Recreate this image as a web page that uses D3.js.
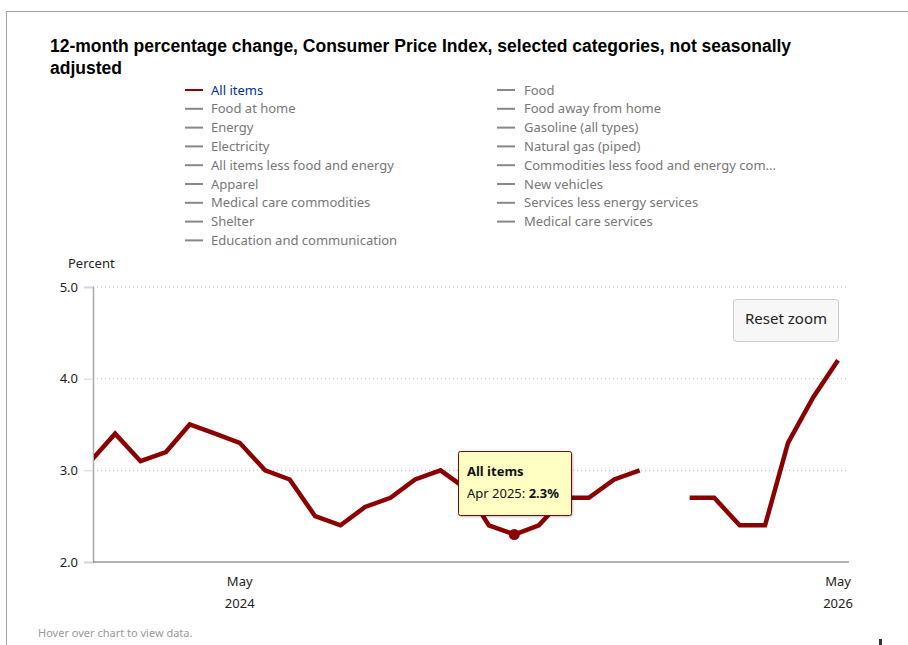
<!DOCTYPE html>
<html>
<head>
<meta charset="utf-8">
<script src="https://cdn.jsdelivr.net/npm/d3@7"></script>
<style>
  body { margin: 0; background: #fff; }
  svg { display: block; }
</style>
</head>
<body>
<script>
// Data: 12-month % change, All items CPI (Oct 2025 missing)
const months = ["2023-11","2023-12","2024-01","2024-02","2024-03","2024-04","2024-05","2024-06","2024-07","2024-08","2024-09","2024-10","2024-11","2024-12","2025-01","2025-02","2025-03","2025-04","2025-05","2025-06","2025-07","2025-08","2025-09","2025-10","2025-11","2025-12","2026-01","2026-02","2026-03","2026-04","2026-05"];
const allItems = [3.1,3.4,3.1,3.2,3.5,3.4,3.3,3.0,2.9,2.5,2.4,2.6,2.7,2.9,3.0,2.8,2.4,2.3,2.4,2.7,2.7,2.9,3.0,null,2.7,2.7,2.4,2.4,3.3,3.8,4.2];
const legendLeft = ["All items","Food at home","Energy","Electricity","All items less food and energy","Apparel","Medical care commodities","Shelter","Education and communication"];
const legendRight = ["Food","Food away from home","Gasoline (all types)","Natural gas (piped)","Commodities less food and energy com...","New vehicles","Services less energy services","Medical care services"];
const yTicks = [2.0, 3.0, 4.0, 5.0];
const xTicks = ["2024-05","2026-05"];
const hoverMonth = "2025-04";

const W = 908, H = 645;
const margin = { top: 287, right: 59, bottom: 83, left: 93 };
const parse = d3.timeParse("%Y-%m");
const data = months.map((m, i) => ({ date: parse(m), value: allItems[i] }));

const svg = d3.select("body").append("svg")
    .attr("width", W)
    .attr("height", H)
    .style("font-family", "'Noto Sans', 'Open Sans', sans-serif");

// outer frame
svg.append("path")
    .attr("d", `M6.5,${H} V11.5 H${W}`)
    .attr("fill", "none")
    .attr("stroke", "#a0a0a0");

// Title
const title = svg.append("text")
    .attr("x", 50)
    .attr("y", 52)
    .style("font-family", "'Liberation Sans', Arial, sans-serif")
    .style("font-weight", "bold")
    .style("font-size", "17.5px")
    .attr("fill", "#000");
title.append("tspan").attr("x", 50).text("12-month percentage change, Consumer Price Index, selected categories, not seasonally");
title.append("tspan").attr("x", 50).attr("dy", 22).text("adjusted");

// Legend
function drawLegend(items, lx, tx) {
    const g = svg.append("g");
    const row = g.selectAll("g")
        .data(items)
        .enter()
        .append("g")
        .attr("transform", (d, i) => `translate(0, ${90 + i * 18.8})`);
    row.append("line")
        .attr("x1", lx).attr("x2", lx + 18)
        .attr("stroke", d => d === "All items" ? "#8b0000" : "#888")
        .attr("stroke-width", 2);
    row.append("text")
        .attr("x", tx)
        .attr("dy", "0.35em")
        .style("font-size", "13px")
        .attr("fill", d => d === "All items" ? "#003399" : "#777")
        .text(d => d);
}
drawLegend(legendLeft, 185, 211);
drawLegend(legendRight, 497, 524);

// Scales
const x = d3.scaleTime()
    .domain([new Date(2023, 10, 4), new Date(2026, 4, 1)])
    .range([margin.left, 838]);
const y = d3.scaleLinear()
    .domain([2, 5])
    .range([H - margin.bottom, margin.top]);
const plotRight = W - margin.right;

// Gridlines
svg.append("g")
    .selectAll("line")
    .data(yTicks.filter(t => t > 2))
    .enter()
    .append("line")
    .attr("x1", margin.left).attr("x2", plotRight)
    .attr("y1", d => y(d)).attr("y2", d => y(d))
    .attr("stroke", "#bbb")
    .attr("stroke-dasharray", "1,3");

// Y axis
const yAxis = d3.axisLeft(y)
    .tickValues(yTicks)
    .tickFormat(d3.format(".1f"))
    .tickSize(9)
    .tickPadding(6);
const yg = svg.append("g")
    .attr("transform", `translate(${margin.left},0)`)
    .call(yAxis);
yg.select(".domain").attr("stroke", "#a8a8a8").attr("stroke-width", 1.5);
yg.selectAll(".tick line").attr("stroke", "#ccd6eb");
yg.selectAll(".tick text")
    .style("font-size", "13px")
    .style("font-family", "'Noto Sans', sans-serif")
    .attr("fill", "#222");

svg.append("text")
    .attr("x", 68)
    .attr("y", 268)
    .style("font-size", "13px")
    .attr("fill", "#222")
    .text("Percent");

// X axis line
svg.append("line")
    .attr("x1", margin.left).attr("x2", plotRight)
    .attr("y1", y(2)).attr("y2", y(2))
    .attr("stroke", "#999")
    .attr("stroke-width", 1.5);

// X tick labels
const xl = svg.append("g")
    .selectAll("g")
    .data(xTicks.map(parse))
    .enter()
    .append("g")
    .attr("transform", d => `translate(${x(d)},0)`);
xl.append("text")
    .attr("y", 586)
    .attr("text-anchor", "middle")
    .style("font-size", "13px")
    .attr("fill", "#222")
    .text(d => d3.timeFormat("%b")(d));
xl.append("text")
    .attr("y", 608)
    .attr("text-anchor", "middle")
    .style("font-size", "13px")
    .attr("fill", "#222")
    .text(d => d3.timeFormat("%Y")(d));

// Line
svg.append("clipPath")
    .attr("id", "plot-clip")
    .append("rect")
    .attr("x", margin.left + 1)
    .attr("y", margin.top - 10)
    .attr("width", plotRight - margin.left + 10)
    .attr("height", H - margin.bottom - margin.top + 10);

const line = d3.line()
    .defined(d => d.value !== null)
    .x(d => x(d.date))
    .y(d => y(d.value));

svg.append("path")
    .datum(data)
    .attr("clip-path", "url(#plot-clip)")
    .attr("fill", "none")
    .attr("stroke", "#8b0000")
    .attr("stroke-width", 4.5)
    .attr("stroke-linejoin", "miter")
    .attr("d", line);

// Hovered point
const hp = data.find(d => d3.timeFormat("%Y-%m")(d.date) === hoverMonth);
svg.append("circle")
    .attr("cx", x(hp.date))
    .attr("cy", y(hp.value))
    .attr("r", 5.5)
    .attr("fill", "#8b0000");

// Reset zoom button
const btn = svg.append("g").attr("transform", "translate(733,299)");
btn.append("rect")
    .attr("x", 0.5).attr("y", 0.5)
    .attr("width", 105).attr("height", 42)
    .attr("rx", 3)
    .attr("fill", "#f7f7f7")
    .attr("stroke", "#cccccc");
btn.append("text")
    .attr("x", 53).attr("y", 25)
    .attr("text-anchor", "middle")
    .style("font-size", "15px")
    .attr("fill", "#222")
    .text("Reset zoom");

// Tooltip
const tip = svg.append("g").attr("transform", "translate(458,451)");
tip.append("rect")
    .attr("x", 0.5).attr("y", 0.5)
    .attr("width", 113).attr("height", 64)
    .attr("rx", 2)
    .attr("fill", "#ffffc4")
    .attr("stroke", "#8b0000")
    .style("filter", "drop-shadow(1px 1px 1px rgba(0,0,0,0.25))");
tip.append("text")
    .attr("x", 9).attr("y", 25)
    .style("font-size", "13px")
    .style("font-weight", "bold")
    .attr("fill", "#111")
    .text("All items");
const t2 = tip.append("text")
    .attr("x", 9).attr("y", 47)
    .style("font-size", "13px")
    .attr("fill", "#111");
t2.append("tspan").text(d3.timeFormat("%b %Y")(hp.date) + ": ");
t2.append("tspan").style("font-weight", "bold").text(hp.value.toFixed(1) + "%");

// Footer
svg.append("text")
    .attr("x", 38)
    .attr("y", 637)
    .style("font-size", "11px")
    .attr("fill", "#999")
    .text("Hover over chart to view data.");

svg.append("rect")
    .attr("x", 879).attr("y", 639)
    .attr("width", 3).attr("height", 6)
    .attr("fill", "#333");
</script>
</body>
</html>
